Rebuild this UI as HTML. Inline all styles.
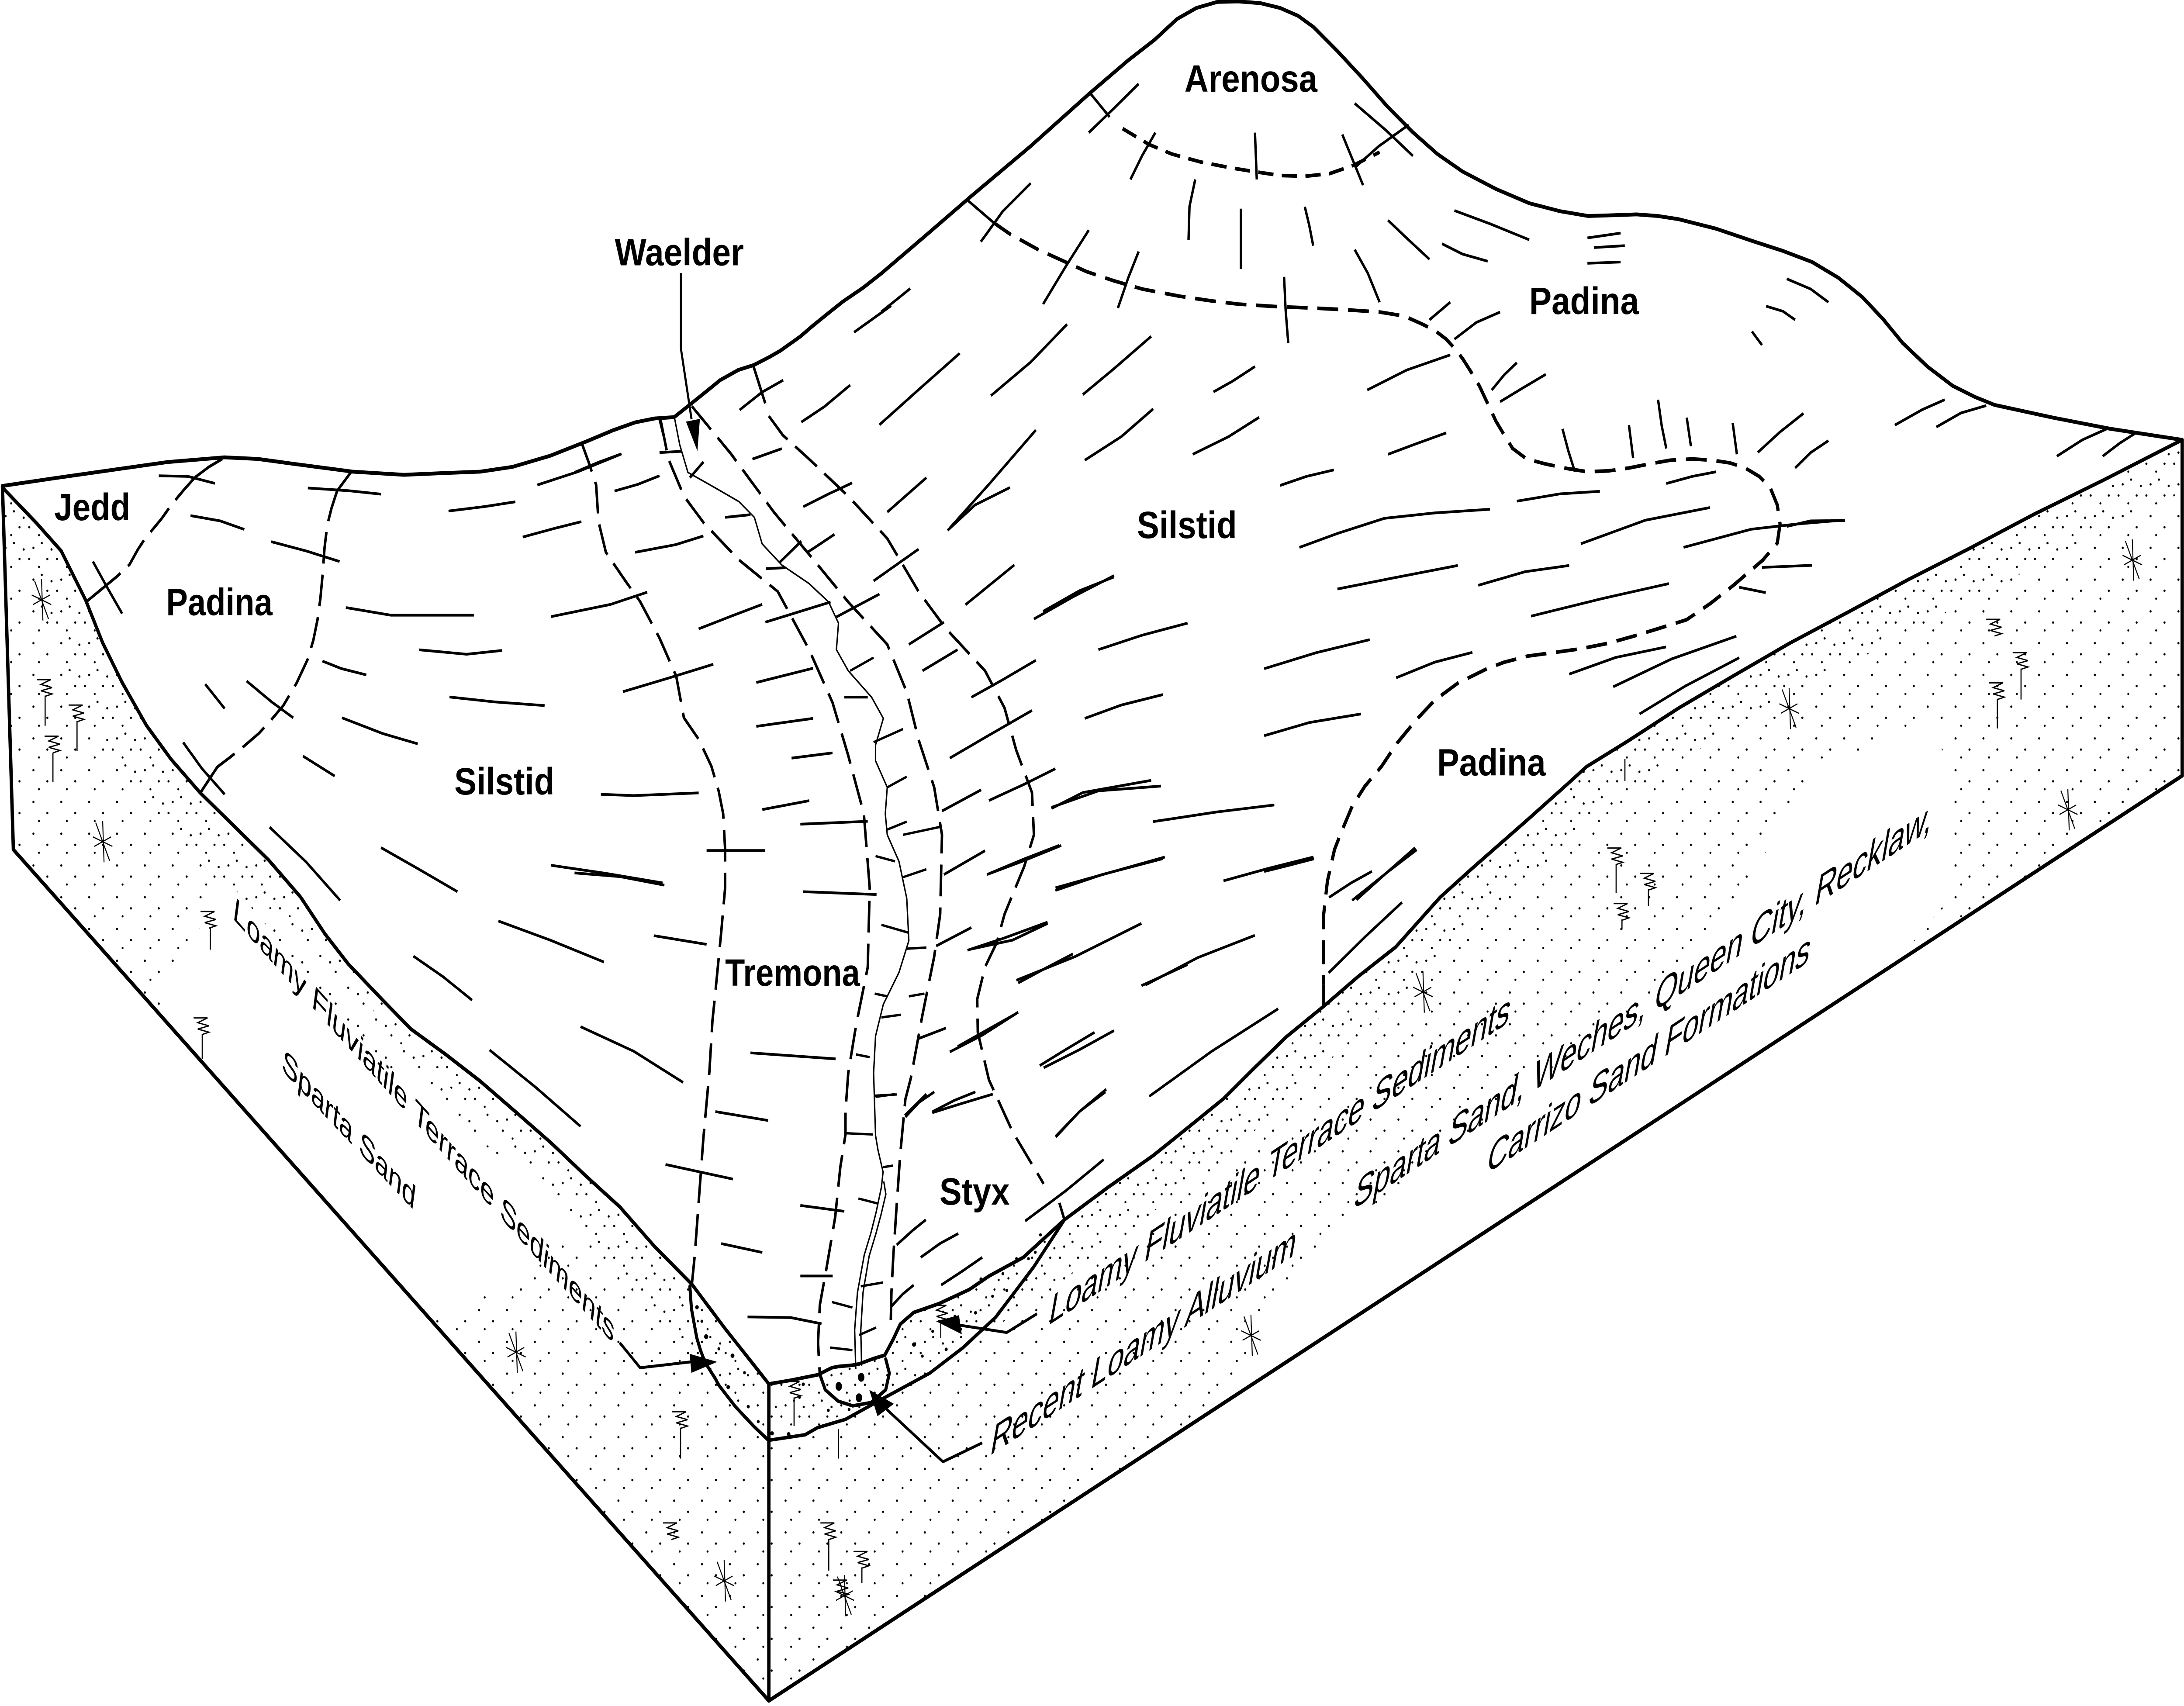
<!DOCTYPE html>
<html><head><meta charset="utf-8"><style>
html,body{margin:0;padding:0;background:#fff;overflow:hidden;width:100vw;height:100vh;}
svg{display:block;width:100vw;height:100vh;}
</style></head><body>
<svg xmlns="http://www.w3.org/2000/svg" width="5701" height="3906" viewBox="0 0 1568 1074.3" preserveAspectRatio="none">
<defs>
<pattern id="st" width="20" height="20" patternUnits="userSpaceOnUse">
<circle cx="4" cy="5" r="0.75" fill="#000"/><circle cx="14" cy="12" r="0.75" fill="#000"/><circle cx="8" cy="17" r="0.7" fill="#000"/>
</pattern>
<pattern id="st2" width="20" height="20" patternUnits="userSpaceOnUse">
<circle cx="10" cy="2" r="0.75" fill="#000"/><circle cx="17" cy="6" r="0.75" fill="#000"/><circle cx="1" cy="12" r="0.75" fill="#000"/>
</pattern>
<clipPath id="lf"><path d="M1.75,307 L26.3,329.5 43.9,346.9 61.4,377.7 73.7,404.8 87.7,429.8 105.2,456.9 122.8,478.1 143.8,499.3 168.4,520.5 193,541.7 215.8,564.9 233.3,588.1 250,607 275,630 295,648 320,664 345,681 370,700 396,720 420,740 445,760 470,785 497,809 520,836 552,871.5 L552,1071 L9.6,535 Z"/></clipPath>
<clipPath id="rf"><path d="M552,871.5 L567.7,869.2 587.3,865.7 597.2,861.3 602,860.5 611.9,859.7 616.8,858.9 626.6,855.7 635.2,853.4 641.2,843.5 646.4,833.8 656,826.5 674,821 696,812 710,803.6 734.7,791.8 764.2,768.1 795,748 827.9,727.7 853,710 878.4,691.9 900,673 923.3,653.1 950.3,633.7 975,615 1002,596.4 1034,565 1058,546 1097,516 1125,494 1139.2,482.7 1168.7,466.7 1205,446 1244.5,425.6 1285,405 1328.7,384.6 1370,365 1413,345.8 1460,324 1509.8,302.5 1566.7,277 L1566.7,488.5 L552,1071 Z"/></clipPath>
</defs>
<rect x="0" y="0" width="1568" height="1074.3" fill="#fff"/>

<!-- stipple -->
<g clip-path="url(#lf)">
<rect x="0" y="290" width="560" height="790" fill="url(#st)"/>
<polygon points="120,620 160,560 215,580 290,660 370,720 425,768 380,800 320,830 100,700" fill="#fff"/>
<polyline fill="none" stroke="url(#st2)" stroke-width="60" points="1.75,307 26.3,329.5 43.9,346.9 61.4,377.7 73.7,404.8 87.7,429.8 105.2,456.9 122.8,478.1 143.8,499.3 168.4,520.5 193,541.7 215.8,564.9 233.3,588.1 250,607 275,630 295,648 320,664 345,681 370,700 396,720 420,740 445,760 470,785 497,809 520,836 552,871.5"/>
</g>
<g clip-path="url(#rf)">
<rect x="540" y="270" width="1030" height="810" fill="url(#st)"/>
<polygon points="780,1000 860,900 940,790 1060,710 1180,635 1250,565 1300,485 1392,455 1405,560 1300,670 1000,860 820,1010" fill="#fff"/>
<polyline fill="none" stroke="url(#st2)" stroke-width="60" points="552,871.5 567.7,869.2 587.3,865.7 597.2,861.3 602,860.5 611.9,859.7 616.8,858.9 626.6,855.7 635.2,853.4 641.2,843.5 646.4,833.8 656,826.5 674,821 696,812 710,803.6 734.7,791.8 764.2,768.1 795,748 827.9,727.7 853,710 878.4,691.9 900,673 923.3,653.1 950.3,633.7 975,615 1002,596.4 1034,565 1058,546 1097,516 1125,494 1139.2,482.7 1168.7,466.7 1205,446 1244.5,425.6 1285,405 1328.7,384.6 1370,365 1413,345.8 1460,324 1509.8,302.5 1566.7,277"/>
</g>

<!-- main outlines -->
<g fill="none" stroke="#000" stroke-width="2.4" stroke-linejoin="round" stroke-linecap="round">
<polyline points="1.75,306 40,301 80,296 120,291 161,288 185,289 210,292 253,297 290,299 316,298 345,297 368,294 395,287 421,278 440,271 456,266 470,263.5 484,262.7 495,255 505,248 517,239.4 530,233 541.4,229.8 552,225 560,221 574.6,211.9 584.4,204.5 595,197 605,190 620,181 633,172 665,148 698,123 740,92 782,59 810,38 829,25 845,12 859,5 874,1.2 889,0.9 905,2 919,5 932,10 943,17 960,32 978,49 996,67 1014,83 1032,97 1050,108 1074,119 1098,128 1120,133 1140,136 1160,135.5 1175,135 1190,136 1205,138 1232,144 1259,152 1280,158 1301,165 1320,175 1337,187 1352,201 1366,216 1384,231 1402,243 1418,250 1432,255 1474,263 1515,270 1566.7,277"/>
<polyline points="1566.7,277 1566.7,488.5 552,1071 9.6,535 1.75,306"/>
<line x1="552" y1="871.5" x2="552" y2="1071"/>
<polyline stroke-width="2.3" points="1.75,307 26.3,329.5 43.9,346.9 61.4,377.7 73.7,404.8 87.7,429.8 105.2,456.9 122.8,478.1 143.8,499.3 168.4,520.5 193,541.7 215.8,564.9 233.3,588.1 250,607 275,630 295,648 320,664 345,681 370,700 396,720 420,740 445,760 470,785 497,809 520,836 552,871.5"/>
<polyline stroke-width="2.3" points="552,871.5 567.7,869.2 587.3,865.7 597.2,861.3 602,860.5 611.9,859.7 616.8,858.9 626.6,855.7 635.2,853.4 641.2,843.5 646.4,833.8 656,826.5 674,821 696,812 710,803.6 734.7,791.8 764.2,768.1 795,748 827.9,727.7 853,710 878.4,691.9 900,673 923.3,653.1 950.3,633.7 975,615 1002,596.4 1034,565 1058,546 1097,516 1125,494 1139.2,482.7 1168.7,466.7 1205,446 1244.5,425.6 1285,405 1328.7,384.6 1370,365 1413,345.8 1460,324 1509.8,302.5 1566.7,277"/>
<polyline stroke-width="2.2" points="495.3,810 496.4,824 500.2,842.3 503,850.5 506.3,858.1 513.6,868.2 516.1,872.3 528,885.8 541.2,898.2 551.7,907 578,903.5 587,899 607,893.8 636,879.7 667.5,864.7 691.2,848.8 714.9,829.4 742,798 764.2,768.1"/>
<polyline stroke-width="2.2" points="588.6,865.5 592.5,875.2 601.7,882.3 612.2,885.3 625.4,883.2 635.9,875.2 638.5,864.7 635.9,855.8"/>
</g>

<!-- stream -->
<g fill="none" stroke="#000" stroke-width="1.0" stroke-linejoin="round">
<polyline points="484.1,262.5 488,280 493.9,297.5 510.7,305.8 530.4,315.8 541.6,325.8 547.2,342.5 561.3,355.8 580.9,367.5 594.9,379.1 602,392.4 600.5,409.1 609,422.4 625.8,439.1 634.2,452.4 628.6,469.1 628.6,479.1 637,495.8 635.6,512.4 637,525.7 645.4,542.4 651,565.7 652.5,592.4 645.4,612.4 634.2,632.4 628.6,652.4 627.2,675.7 628.6,715 630.3,724 634,738 632.8,747.6 629,763.4 625.4,776 620.5,790.2 615.6,814 613.6,837.6 614.4,862"/>
<polyline points="634.5,744 636,752 632.5,765 628.8,777 624,791 619.6,814 618,837.6 618.6,860"/>
</g>

<!-- dashed boundaries -->
<g fill="none" stroke="#000" stroke-width="1.8" stroke-linejoin="round">
<polyline points="159.6,289 150,294 140,300.6"/>
<polyline stroke-dasharray="20 7" points="140,300.6 131.5,309 123,318 116,326.6 110,333 105,338 99,346 93,355.5 84,363"/>
<polyline points="84,363 62.3,378.7"/>
<polyline points="252.5,296.7 242,309.2"/>
<polyline stroke-dasharray="20 7" points="242,309.2 238,320 235,330.5 233,345 231.5,363 230,377 228,390 225,403 221,415 213,430 203.4,444.3 195,453 186,461.7 175,470 165,477 156,483"/>
<polyline points="156.1,482.9 143.8,499.3"/>
<polyline stroke-dasharray="20 7" points="417.4,278.4 423,292 428,305.4 429.7,328.5 435,347.8 449,365.8 459.5,378.7 473.5,401.8 485.5,425.8 491,452 501.6,465.5 510.7,482.4 516,498.3 519.2,512.4 520.6,535 520.6,559 517.8,587 513.5,625.7 511.5,642.8 509.3,675 505,716.6 498.8,790.5 496.7,809"/>
<polyline stroke-dasharray="20 7" points="474.2,264.1 479.9,289.1 491.1,312.5 505.1,329.1 530.4,352.5 558.4,372.5 580.9,409.1 597.7,442.4 609,475.8 620.2,512.4 624.4,559 623,609 614.6,645.7 609,675.7 607,700 607,714.4 603.3,735 599.6,766.5 593.5,798 588.6,821.8 587.3,845.5 588.6,866"/>
<polyline stroke-dasharray="20 7" points="496.7,255.8 524.8,285.8 555.6,322.5 580.9,349.1 609,379.1 637,405.8 651,435.8 659.5,465.8 670.7,495.8 676.3,525.7 675,575.7 670.7,602.4 662.3,639 653.9,679 650,692.3 646.3,727 643.8,758.6 641.4,790.2 640,814 639.5,833"/>
<polyline points="540.8,230.2 549.4,254"/>
<polyline stroke-dasharray="20 7" points="552,262 562,274 580.9,289.1 609,312.5 637,339.1 659.5,372.5 679.1,395.8 707.2,422.4 721.2,445.8 729.6,472.4 740.9,499.1 742.3,525.7 735.3,545.7 721.2,575.7 715.7,593.4 707.2,609 701.6,629.2 702,650 710,680 727,712.7 749.3,745.5"/>
<polyline points="760.6,757.5 764.2,768.1"/>
<polyline stroke-width="2.3" stroke-dasharray="11 6" points="806,81 825,91 841.4,97 862,102 883.1,105.6 900,108 919,110.5 937,111 954.7,109.3 972,104 990.5,95.8"/>
<polyline stroke-width="2.3" stroke-dasharray="15 7" points="713,140 725,147.3 745,157 763.8,164.5 780,171 799.6,176.8 820,182 847.4,186.6 870,189.5 889,191.5 915,193 942.8,194 965,195 990.5,196.5 1008,199 1020.4,203.8 1030,208 1038.3,213.6 1045,220 1050.2,226 1056,234 1062.1,243 1068,254 1074,265.2 1080,274 1086,282.4 1096,289 1109.8,292.2 1125,295 1139.7,297.1 1155,296.5 1169.5,294.7 1185,292 1199.3,289.8 1215,289 1229.1,289.8 1242,291.5 1253,294.7 1263,300 1270.9,307 1276,318 1278,330 1276,342 1265.6,352.7 1244.5,368.6 1228,380 1210.8,390.3 1190,396 1172.9,400.6 1155,405 1135,408.5 1115,411 1097.1,413.1 1080,417 1067.6,421.1 1046.6,430.2 1030,441 1017.1,453 1003,468 991.8,482.7 980,495 970.8,507.7 962.6,524.8 958.1,535 953,555 950.3,576 950.3,599.4 950.3,620"/>
<polyline stroke-width="2" points="950.3,620 950.3,633.7"/>
</g>

<!-- hachures -->
<g fill="none" stroke="#000" stroke-width="1.7" stroke-linejoin="round">
<path d="M114,299.6 L135,300 L154.3,304.4 M221,307.3 L250,309 L273.6,311.2 M136.8,324.7 L158,328 L175.4,333.4 M194.7,341.1 L220,347 L243.8,353.6 M322,321.8 L348,319 L370,316 M385.8,305.4 L415,297 L445.5,286.1 M375.3,338.2 L397,333 L417.4,328.5 M441.2,309.2 L458,305 L473.5,299.6 M456,347.8 L485,343 L505,337.5 M248.3,382.6 L280.6,387.4 L310,387.4 L340.2,387.4 M395.7,388.3 L438.4,380.6 L464.7,372.9 M501.6,396 L525,388 L547.2,380.6 M301,409.2 L335,412 L360.6,409.6 M231.5,416.3 L245,421 L263,425 M447.2,435.6 L480,427 L512.1,418.3 M322.7,438.9 L355,442 L391,444.3 M177.1,428.9 L195,442 L210.5,452 M147.3,430.8 L161.3,446.2 M245.5,452 L275,462 L299.9,468.4 M217.5,476.1 L240.3,488.7 M431.4,500.2 L455,501 L501.6,499.3 M131.5,467.5 L145,484 L161.3,500.2 M66.7,353.6 L77,370 L87.7,386.4"/>
<path d="M193.6,520.9 L220,543 L244.2,567 M273.6,533.8 L300,547 L328.4,561.5 M395.7,544.9 L435,550 L475.7,556 M507.3,535.6 L549.4,535.6 M547.3,509.8 L581,504.2 M574.6,519 L623,517.2 M576.7,561.5 L629.3,563.3 M357.8,580 L395,592 L433.6,605.8 M469.4,589.2 L507.3,594.7 M296.8,602.1 L318,615 L338.9,629.8 M416.8,646.5 L455,662 L490.4,681.6 M538.8,663 L599.9,666.8 M351.5,661.2 L385,685 L416.8,709.3 M513.6,700 L551.5,705.6 M477.8,733.3 L526.2,742.5 M574.6,759.1 L606.2,762.8 M517.8,783.1 L547.3,788.7 M574.6,803.5 L597.8,803.5 M536.7,829.3 L567.7,829.7 L589.8,833.6 M412.5,549.7 L445,552 L477,557.4 M543,457.4 L583.7,452.4 M543,429.8 L583.7,420.8"/>
<path d="M549.5,391.8 L596.3,379.1 M600.5,388.5 L631.4,374.1 M627.2,365.8 L659.5,345.8 M637,322.5 L665.1,300.8 M631.4,267.5 L660,245 L689,222.5 M681.9,332.5 L710,305 L743.7,270.8 M711.4,249.2 L740,228 L766.1,204.2 M777.4,248.5 L800,232 L826.5,211.8 M778.8,289.8 L805,275 L827.9,257.5 M693.2,380.8 L728.2,355.8 M742.3,389.8 L770,376 L799.8,362.5 M788.6,409.1 L820,400 L852.6,392.4 M652.5,405.8 L677.7,391.8 M662.3,422.4 L687.5,409.1 M697.4,439.1 L720,428 L743.7,415.8 M778.8,452.4 L805,444 L834.9,437.4 M681.9,477.4 L710,463 L740.9,447.4 M710,504.1 L735,494 L757.7,484.1 M754.9,509.1 L777.4,499.1 L826.5,491.4 M676.3,510.7 L704.4,497.4 M677.7,550.7 L707.2,535.7 M708.6,550.7 L735,542 L761.9,532.4 M757.7,560.7 L791.4,550.7 L834.9,540.7 M568.3,477.4 L597.7,474.1 M672.1,595.7 L697.4,584.1 M694.6,598.4 L720,591 L752.1,580.7 M731,619 L750,610 L770.3,600.7 M819.5,620.7 L852.6,607.4 M659.5,654 L679.1,647.4 M681.9,662.4 L705,652 L731,637.4 M749.3,672.4 L775,661 L799.8,649 M649.7,702.4 L665.1,689 M669.3,700.7 L690,695 L712.8,689"/>
<path d="M531,258.2 L547,247 L562.3,239.4 M575.3,265.8 L592,256 L610.4,242.5 M613.2,209.2 L639.8,192.5 M540.2,289.1 L561.3,282.5 M576.7,319.1 L595,311 L611.8,304.1 M559.8,354.1 L575.3,340.8 M580.3,347.5 L599.1,336.5 M412.5,297.5 L430,291 L446.2,285.8 M520.6,325.8 L538.8,324.1 M495.3,300.8 L505.1,290.8 M473.5,264 L477,276.4 M473.5,285 L489.3,284.2 M550,358.1 L564,357.5"/>
<path stroke-width="1.5" d="M610.4,422.4 L627.2,414.1 M606.2,439.1 L623,439.1 M627.2,467.4 L648.3,459.1 M637,495.8 L651,489.1 M637,522.4 L651,517.4 M628.6,539.1 L642.6,542.4 M648.3,552.4 L665.1,547.4 M632.8,582.4 L652.5,587.4 M651,597.4 L665.1,596.7 M628,625.7 L637,627.4 M652.5,627.4 L663.7,625.7 M632.8,640.7 L646.8,639 M614.6,664 L624.4,665.7 M628.6,690.7 L642.6,689 M648.3,525.7 L675,520.7 M627.9,690 L643.8,689.2 M607,713.6 L626.6,714.4 M616.3,754.7 L630.3,757.9 M618,810 L634,807.6 M616.8,840.7 L629,836 M597.2,819.9 L612,823.4 M596,848.6 L612,850.2 M634,735 L641,734"/>
<path d="M650,703.4 L660,694 L670.8,687.6 M669.6,700 L685,693 L700.3,687.6 M643.8,783.9 L655,775 L664.7,768.1 M661,791.8 L675,783 L688,776.8 M640,822.6 L648,815 L656,809.2 M675.7,809.2 L690,801 L705.2,791.8 M736,768.9 L765,750 L792.4,730.2 M758,716 L775,700 L793.6,687.6"/>
<path d="M755,508.4 L788.6,498 L833.5,495 M827.9,517.4 L872.8,511.4 L914.9,506.9 M710,550.2 L735,541 L760.6,532.3 M757.8,559.1 L799.9,548.7 L836.3,539.7 M878.4,554.7 L910,547 L943,539.7 M973.9,566.6 L995,550 L1016,533.8 M696,597.9 L727,592 L752.1,581.5 M729.7,617.3 L771.8,602.4 L819.5,581.5 M822.3,620.3 L860,603 L900.9,589 M953.9,612.6 L980,590 L1006.6,568.2 M687.6,659 L729.7,638.2 M746.5,671 L765,661 L785.8,650.1 M825.1,690.4 L870,662 L917.7,635.2 M757.8,715.7 L775,700 L794.2,685.9"/>
<path d="M781.7,57.7 L796.7,73.7 M781.7,83.5 L800,68 L817.5,52.8 M811.6,113 L820,98 L829.5,83.5 M901,83.5 L902.3,113 M963.7,84.7 L978.6,116.6 M972.6,65.1 L995,82 L1014.4,98.2 M972.6,105.6 L990,92 L1011.4,78.6 M695.2,126.5 L713.1,140 M704.2,152.2 L720,133 L740,115.4 M748.9,191.5 L765,168 L781.7,144.9 M802.6,194 L810,175 L817.5,158.4 M853.3,151 L854,130 L858.1,113 M890.9,169.4 L890.9,131.4 M942.8,154.7 L940,142 L936.8,130.2 M1026.3,163.3 L1010,150 L996.5,138.7 M1044.2,132.6 L1070,141 L1097.9,151 M1035.3,153.5 L1050,160 L1068.1,164.5 M990.5,190.3 L982,172 L972.6,157.2 M924.9,216.1 L923,195 L921.9,174.3 M1139.7,149.8 L1163.5,146.8 M1144.5,155.9 L1166.5,154.7 M1139.7,165.8 L1163.5,165 M1026.3,201.4 L1041.2,190.3 M1044.2,213.6 L1060,203 L1077,196.5 M1282.8,175.6 L1300,182 L1312.7,190.3 M1268,192.8 L1280,196 L1288.8,201.4 M1257.8,208.7 L1265,217.3 M1360.4,267.7 L1380,258 L1396.2,251.7 M1390.2,268.9 L1408,260 L1426,255.4 M1476.7,287.3 L1495,277 L1512.5,270.1 M1509.6,287.3 L1522,279 L1533.4,272.6 M632.6,196.5 L653.5,181.7"/>
<path d="M871.2,246.8 L885,240 L901,230.8 M981.6,245.6 L1010,233 L1041.2,223.5 M1071,245.6 L1080,236 L1089,228.4 M1077,253 L1092,245 L1109.8,235.7 M856.3,286.1 L882,275 L904,262.8 M996.5,286.1 L1015,280 L1038.3,272.6 M919,305.7 L938,300 L957.7,295.9 M1089,315.6 L1120,311 L1148.6,309.4 M1196.3,304.5 L1215,300 L1232.1,297.1 M1121.8,270.1 L1126,284 L1130.7,297.1 M1169.5,267.7 L1171,278 L1172.5,288.5 M1190.4,251.7 L1193,268 L1196.3,282.4 M1211,263 L1214,281 M1244,266.4 L1247,286.1 M1262,284.9 L1278,272 L1294.8,260.3 M1288.8,294.7 L1300,285 L1312.7,277.5 M1282.8,331.5 L1300,328 L1324.6,327.8 M1265,357.3 L1300.8,356 M932.9,344.7 L960,336 L993.9,326.4 L1030,323 L1069.7,320.7 M1135,342.4 L1181.3,327.6 L1227.7,319.6 M1208.7,344.7 L1257.1,333.3 L1290,330 L1322.4,327.6 M680.3,334 L700,318 L725.1,307 M748.9,385 L775,372 L799.6,363.4 M960.2,370.9 L1000,364 L1046.6,356.1 M1061.3,368.6 L1095,360 L1126.6,356.1 M1099.2,388 L1150,377 L1198.2,367.5 M907.6,421.1 L945,411 L983.4,402.8 M1002.4,426.8 L1030,417 L1057.1,410.8 M1126.6,424.5 L1160,414 L1196.1,407.4 M1158.2,432.5 L1200,415 L1246.6,400.6 M1177.1,449.6 L1210,432 L1248.7,414.2 M907.6,463.3 L940,455 L977.1,449.6 M907.6,548.8 L925,545 L943.4,540.8 M970.8,567 L995,550 L1017.1,535.1 M1248.7,369.8 L1267.7,373.2 M954.2,565.1 L970,556 L985,548.7"/>
</g>

<!-- leaders and arrows -->
<g fill="none" stroke="#000" stroke-linejoin="round">
<polyline stroke-width="1.5" points="488.9,172 488.9,219.7 496.5,264"/>
<polyline stroke-width="1.8" points="444.9,845.5 459.6,861.3 497,857.5"/>
<polyline stroke-width="1.8" points="744.5,827.3 722.8,839.1 689,834.5"/>
<polyline stroke-width="1.8" points="705.2,908.6 677,920.5 636,887"/>
</g>
<g fill="#000">
<polygon points="500.7,284 492.5,265.5 502.5,263.8"/>
<polygon points="514.9,857.6 495.1,852.5 496.4,864.5"/>
<polygon points="672,832 688.5,828.2 690.5,840.2"/>
<polygon points="624.1,875.2 630,891.8 641.8,884"/>
</g>

<!-- deposit dots -->
<g fill="#000">
<circle cx="500.4" cy="823.2" r="1.3"/><circle cx="507" cy="841.7" r="1.5"/><circle cx="525.9" cy="853.7" r="1.4"/><circle cx="522.8" cy="873.5" r="1.3"/><circle cx="537.2" cy="885.8" r="1.1"/><circle cx="554.3" cy="902.6" r="1.3"/><circle cx="566.2" cy="903.1" r="1.3"/><circle cx="576.7" cy="871.7" r="1.1"/><circle cx="609.6" cy="887.6" r="1"/><circle cx="656.2" cy="846.7" r="1.4"/><circle cx="679.3" cy="849.7" r="1.1"/><circle cx="662.2" cy="854" r="1"/><circle cx="704.3" cy="805.5" r="1.1"/><circle cx="722.8" cy="812.6" r="1"/><circle cx="700.4" cy="826.7" r="1.1"/><circle cx="503.9" cy="832" r="1"/><circle cx="516.1" cy="849.4" r="1"/><circle cx="534.5" cy="864.4" r="1"/><circle cx="544.4" cy="895.2" r="1"/><circle cx="594.7" cy="888.1" r="1"/><circle cx="669.6" cy="838.4" r="1"/><circle cx="685.6" cy="828.9" r="1"/><circle cx="712.6" cy="816.3" r="1"/><circle cx="720" cy="802.1" r="1"/><circle cx="729.8" cy="792.6" r="1"/><circle cx="738.4" cy="792.6" r="1"/><circle cx="743.3" cy="788.6" r="1"/><circle cx="747" cy="777.6" r="1"/><circle cx="574" cy="880" r="0.9"/><circle cx="690" cy="837" r="0.9"/>
<ellipse cx="618.3" cy="867.3" rx="2.3" ry="2.8"/><ellipse cx="602.2" cy="873" rx="2.3" ry="2.8"/><ellipse cx="616.7" cy="880.2" rx="2.3" ry="2.8"/>
</g>

<!-- symbols -->
<defs>
<g id="ast" fill="none" stroke="#000" stroke-width="0.7"><path d="M0,-13 L1,13 M-5,-12 L5,12 M-7,-3 L7,3 M-6,3 L6,-3"/></g>
<g id="zz" fill="none" stroke="#000" stroke-width="0.8"><path d="M-6,0 L4,0 L-3,3 L5,5 L-3,7 L5,9 L0,10.5"/></g>
</defs>
<use href="#ast" x="29.8" y="377.7"/><use href="#ast" x="73.7" y="530"/><use href="#ast" x="370.4" y="851.5"/><use href="#ast" x="519.9" y="995.5"/><use href="#ast" x="606.2" y="1004.8"/><use href="#ast" x="1021.6" y="624.7"/><use href="#ast" x="898.1" y="841"/><use href="#ast" x="1484.6" y="509.9"/><use href="#ast" x="1284.5" y="446.2"/><use href="#ast" x="1530.9" y="352.7"/>
<g fill="none" stroke="#000" stroke-width="0.8">
<path d="M32.4,438 V457 M55.3,454 V473 M38,474 V492.5 M151,584 V598 M145.2,651 V667 M488.6,899 V918.5 M595,969 V989 M618.8,987 V997 M570.1,880 V898 M675.4,832 V842.6 M1451,421 V440.5 M1434,440 V458.7 M1160.3,544 V562.5 M1183.5,560 V570.5 M1164.5,579 V585.3 M602,900 V918.5 M1166.6,478 V491.8"/>
</g>
<use href="#zz" x="32.4" y="428"/><use href="#zz" x="55.3" y="444"/><use href="#zz" x="38" y="463.6"/><use href="#zz" x="150" y="574"/><use href="#zz" x="145" y="641"/><use href="#zz" x="488.6" y="889"/><use href="#zz" x="482" y="959"/><use href="#zz" x="595" y="959"/><use href="#zz" x="618.8" y="977"/><use href="#zz" x="604" y="995"/><use href="#zz" x="570" y="870"/><use href="#zz" x="675.4" y="822"/><use href="#zz" x="1432" y="390"/><use href="#zz" x="1451" y="411"/><use href="#zz" x="1434" y="430"/><use href="#zz" x="1160" y="534"/><use href="#zz" x="1183.5" y="550"/><use href="#zz" x="1164.5" y="569"/>

<!-- bold labels -->
<g font-family="'Liberation Sans', Arial, sans-serif" font-weight="bold" font-size="24" fill="#000">
<text x="850.4" y="57.7" textLength="95.4" lengthAdjust="spacingAndGlyphs">Arenosa</text>
<text x="441.4" y="167.1" textLength="92.6" lengthAdjust="spacingAndGlyphs">Waelder</text>
<text x="1097.9" y="197.7" textLength="78.8" lengthAdjust="spacingAndGlyphs">Padina</text>
<text x="39" y="327.6" textLength="54.5" lengthAdjust="spacingAndGlyphs">Jedd</text>
<text x="119.3" y="387.4" textLength="76.3" lengthAdjust="spacingAndGlyphs">Padina</text>
<text x="816.3" y="338.9" textLength="71.7" lengthAdjust="spacingAndGlyphs">Silstid</text>
<text x="326.2" y="500.3" textLength="71.9" lengthAdjust="spacingAndGlyphs">Silstid</text>
<text x="1031.8" y="488.4" textLength="77.9" lengthAdjust="spacingAndGlyphs">Padina</text>
<text x="520.6" y="620.7" textLength="96.8" lengthAdjust="spacingAndGlyphs">Tremona</text>
<text x="674.5" y="758.6" textLength="50.4" lengthAdjust="spacingAndGlyphs">Styx</text>
</g>

<!-- face labels -->
<g font-family="'Liberation Sans', Arial, sans-serif" fill="#000">
<text font-size="20" transform="matrix(0.86,0.843,-0.147,0.99,166.7,578)" textLength="318" lengthAdjust="spacingAndGlyphs">Loamy Fluviatile Terrace Sediments</text>
<text font-size="20" transform="matrix(0.86,0.80,-0.147,0.99,201.8,673.5)" textLength="111" lengthAdjust="spacingAndGlyphs">Sparta Sand</text>
<text font-size="28" transform="matrix(0.745,-0.43,-0.2,1,752,835)" textLength="444" lengthAdjust="spacingAndGlyphs">Loamy Fluviatile Terrace Sediments</text>
<text font-size="28" transform="matrix(0.745,-0.43,-0.2,1,710,917)" textLength="294" lengthAdjust="spacingAndGlyphs">Recent Loamy Alluvium</text>
<text font-size="28" transform="matrix(0.745,-0.43,-0.2,1,971,762)" textLength="557" lengthAdjust="spacingAndGlyphs">Sparta Sand, Weches, Queen City, Recklaw,</text>
<text font-size="28" transform="matrix(0.745,-0.43,-0.2,1,1066.5,739.6)" textLength="311" lengthAdjust="spacingAndGlyphs">Carrizo Sand Formations</text>
</g>
</svg>
</body></html>
